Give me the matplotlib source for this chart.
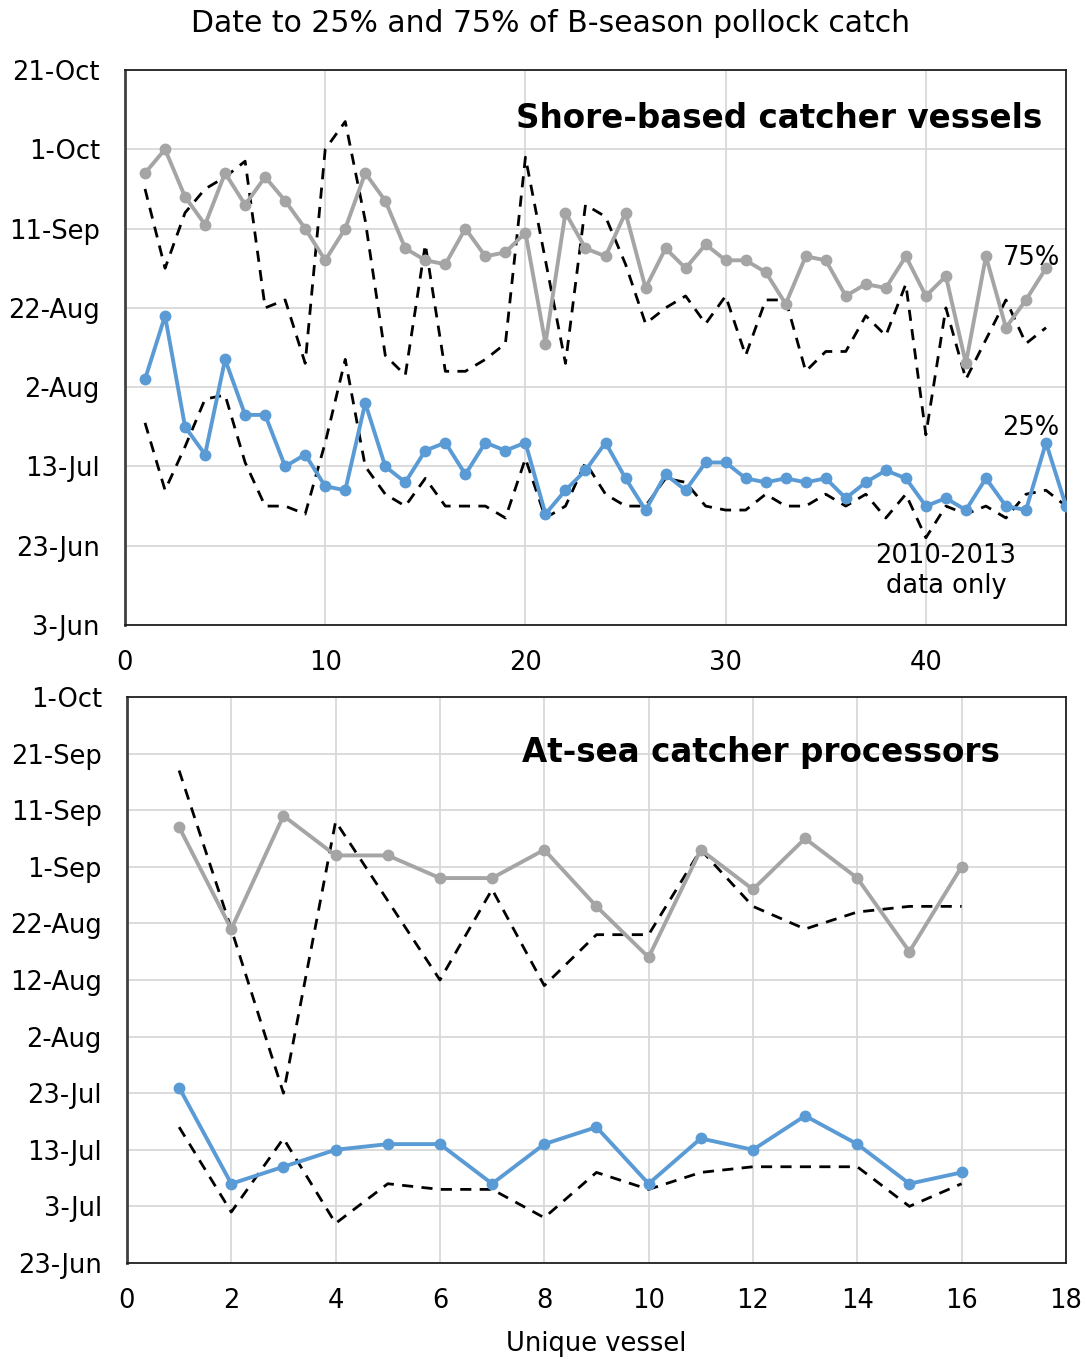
import matplotlib
matplotlib.use("Agg")
import matplotlib.pyplot as plt
import numpy as np
import pandas as pd

# day-of-year (2013) on which each vessel reached 25% / 75% of its B-season catch
shore_q75 = [268, 274, 262, 255, 268, 260, 267, 261, 254, 246, 254, 268, 261, 249, 246, 245,
             254, 247, 248, 253, 225, 258, 249, 247, 258, 239, 249, 244, 250, 246, 246, 243,
             235, 247, 246, 237, 240, 239, 247, 237, 242, 220, 247, 229, 236, 244]
shore_q25 = [216, 232, 204, 197, 221, 207, 207, 194, 197, 189, 188, 210, 194, 190, 198, 200,
             192, 200, 198, 200, 182, 188, 193, 200, 191, 183, 192, 188, 195, 195, 191, 190,
             191, 190, 191, 186, 190, 193, 191, 184, 186, 183, 191, 184, 183, 200, 184]
shore_q75_1013 = [264, 244, 258, 264, 267, 271, 234, 236, 220, 274, 281, 256, 222, 217, 250, 218,
                  218, 221, 225, 272, 246, 220, 260, 257, 245, 230, 234, 237, 230, 237, 222, 236,
                  236, 218, 223, 223, 232, 227, 240, 202, 234, 216, 226, 236, 225, 229]
shore_q25_1013 = [205, 188, 199, 211, 212, 195, 184, 184, 182, 200, 221, 194, 187, 184, 191, 184,
                  184, 184, 181, 196, 181, 184, 195, 187, 184, 184, 191, 190, 184, 183, 183, 187,
                  184, 184, 187, 184, 187, 181, 187, 176, 184, 182, 184, 181, 187, 188, 184]

cp_q75 = [251, 233, 253, 246, 246, 242, 242, 247, 237, 228, 247, 240, 249, 242, 229, 244]
cp_q25 = [205, 188, 191, 194, 195, 195, 188, 195, 198, 188, 196, 194, 200, 195, 188, 190]
cp_q75_1013 = [261, 233, 204, 252, 238, 224, 240, 223, 232, 232, 247, 237, 233, 236, 237, 237]
cp_q25_1013 = [198, 183, 196, 181, 188, 187, 187, 182, 190, 187, 190, 191, 191, 191, 184, 188]

shore_ticks = pd.date_range("2013-06-03", "2013-10-21", freq="20D")
cp_ticks = pd.date_range("2013-06-23", "2013-10-01", freq="10D")


def to_dates(doy):
    return pd.Timestamp("2013-01-01") + pd.to_timedelta(np.array(doy) - 1, unit="D")


GRAY = "#A5A5A5"
BLUE = "#5B9BD5"
FS = 18.5

plt.rcParams["font.family"] = "DejaVu Sans"
fig = plt.figure(figsize=(10.86, 13.62), dpi=100)
ax1 = fig.add_axes([0.1151, 0.5411, 0.8665, 0.4075])
ax2 = fig.add_axes([0.1169, 0.0727, 0.8646, 0.4156])


def draw(ax, q75, q25, q75_old, q25_old):
    x75 = np.arange(1, len(q75) + 1)
    x25 = np.arange(1, len(q25) + 1)
    ax.plot(np.arange(1, len(q75_old) + 1), to_dates(q75_old), color="black",
            lw=2, dashes=(4, 3), zorder=2)
    ax.plot(np.arange(1, len(q25_old) + 1), to_dates(q25_old), color="black",
            lw=2, dashes=(4, 3), zorder=2)
    ax.plot(x75, to_dates(q75), color=GRAY, lw=2.8, marker="o", ms=7.5, zorder=3)
    ax.plot(x25, to_dates(q25), color=BLUE, lw=2.8, marker="o", ms=7.5, zorder=3)


def style(ax, ticks, xmax, xstep):
    ax.set_ylim(ticks[0], ticks[-1])
    ax.set_yticks(ticks)
    ax.set_yticklabels([f"{d.day}-{d.strftime('%b')}" for d in ticks])
    ax.set_xlim(0, xmax)
    ax.set_xticks(np.arange(0, xmax + 1, xstep))
    ax.grid(True, color="#D9D9D9", lw=1.3)
    ax.set_axisbelow(True)
    ax.tick_params(length=0, labelsize=FS, pad=18)
    for s in ax.spines.values():
        s.set_linewidth(1.3)
        s.set_color("#202020")
    ax.spines["left"].set_color("#404040")
    ax.spines["left"].set_linewidth(2)


draw(ax1, shore_q75, shore_q25, shore_q75_1013, shore_q25_1013)
style(ax1, shore_ticks, 47, 10)
draw(ax2, cp_q75, cp_q25, cp_q75_1013, cp_q25_1013)
style(ax2, cp_ticks, 18, 2)

ax1.text(0.975, 0.912, "Shore-based catcher vessels", transform=ax1.transAxes,
         ha="right", va="center", fontsize=23.5, fontweight="bold")
ax2.text(0.93, 0.902, "At-sea catcher processors", transform=ax2.transAxes,
         ha="right", va="center", fontsize=23.5, fontweight="bold")
ax1.text(45.3, to_dates([246.6])[0], "75%", ha="center", va="center", fontsize=FS)
ax1.text(45.25, to_dates([203.7])[0], "25%", ha="center", va="center", fontsize=FS)
ax1.text(41, to_dates([167.6])[0], "2010-2013\ndata only", ha="center", va="center",
         fontsize=FS, linespacing=1.2)

ax2.set_xlabel("Unique vessel", fontsize=FS, labelpad=12)
fig.text(0.507, 0.983, "Date to 25% and 75% of B-season pollock catch",
         ha="center", va="center", fontsize=21.5)

fig.savefig("out.png", dpi=100)
